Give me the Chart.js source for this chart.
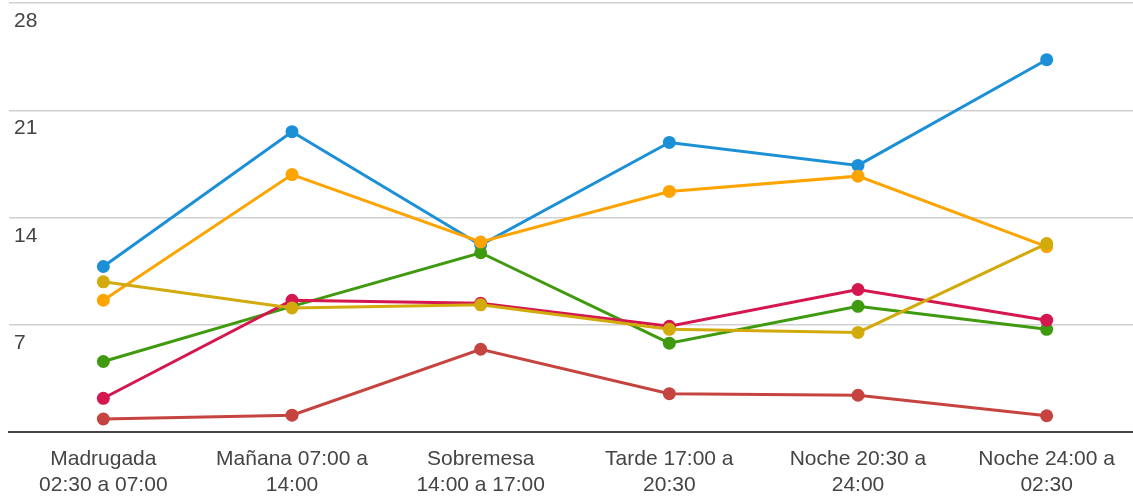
<!DOCTYPE html>
<html>
<head>
<meta charset="utf-8">
<script src="https://cdn.jsdelivr.net/npm/chart.js@4.4.0/dist/chart.umd.min.js"></script>
<style>
  html, body { margin: 0; padding: 0; background: #fff; overflow: hidden; }
  canvas { display: block; }
</style>
</head>
<body>
<canvas id="franjas" width="1141" height="500"></canvas>
<script>
// Franjas horarias (eje X)
const franjas = [
  ['Madrugada', '02:30 a 07:00'],
  ['Mañana 07:00 a', '14:00'],
  ['Sobremesa', '14:00 a 17:00'],
  ['Tarde 17:00 a', '20:30'],
  ['Noche 20:30 a', '24:00'],
  ['Noche 24:00 a', '02:30']
];

// Valores de cada serie
const serieAzul = [10.8, 19.6, 12.2, 18.9, 17.4, 24.3];
const serieNaranja = [8.6, 16.8, 12.4, 15.7, 16.7, 12.1];
const serieVerde = [4.6, 8.2, 11.7, 5.8, 8.2, 6.7];
const serieCarmin = [2.2, 8.6, 8.4, 6.9, 9.3, 7.3];
const serieOro = [9.8, 8.1, 8.3, 6.7, 6.5, 12.3];
const serieTeja = [0.85, 1.1, 5.4, 2.5, 2.4, 1.06];

// Marcas del eje Y
const ticksY = [7, 14, 21, 28];

const fuente = '"Liberation Sans", Arial, sans-serif';

function serie(data, color) {
  return {
    data: data,
    borderColor: color,
    backgroundColor: color,
    borderWidth: 3,
    pointRadius: 6.5,
    pointHoverRadius: 6.5,
    pointBorderWidth: 0,
    tension: 0
  };
}

// Etiquetas del eje Y dibujadas bajo cada línea de la rejilla
const etiquetasY = {
  id: 'etiquetasY',
  afterDraw(chart) {
    const y = chart.scales.y;
    const c = chart.ctx;
    c.save();
    c.font = '21px ' + fuente;
    c.fillStyle = '#444';
    c.textAlign = 'left';
    c.textBaseline = 'alphabetic';
    ticksY.forEach(v => {
      c.fillText(String(v), chart.chartArea.left + 5, y.getPixelForValue(v) + 24);
    });
    c.restore();
  }
};

const ctx = document.getElementById('franjas').getContext('2d');
const chart = new Chart(ctx, {
  type: 'line',
  data: {
    labels: franjas,
    // el primero queda encima
    datasets: [
      serie(serieOro, '#d3aa0c'),
      serie(serieNaranja, '#fea400'),
      serie(serieCarmin, '#d4174e'),
      serie(serieVerde, '#3f9a10'),
      serie(serieAzul, '#1c90d6'),
      serie(serieTeja, '#c6443f')
    ]
  },
  options: {
    responsive: false,
    animation: false,
    layout: { autoPadding: false, padding: { left: 9, top: 3, right: 0, bottom: 0 } },
    plugins: {
      legend: { display: false },
      tooltip: { enabled: false }
    },
    scales: {
      x: {
        offset: true,
        afterFit: s => { s.height = 68; },
        grid: { display: false, drawTicks: false },
        border: { display: true, color: '#444', width: 2 },
        ticks: {
          color: '#444',
          padding: 14,
          maxRotation: 0,
          autoSkip: false,
          font: { family: fuente, size: 21, lineHeight: 1.24 }
        }
      },
      y: {
        min: 0,
        max: 28,
        afterBuildTicks: axis => { axis.ticks = [0].concat(ticksY).map(v => ({ value: v })); },
        grid: { color: '#d0d0d0', lineWidth: 1.5, drawTicks: false },
        border: { display: false },
        ticks: { display: false }
      }
    }
  },
  plugins: [etiquetasY]
});
</script>
</body>
</html>
